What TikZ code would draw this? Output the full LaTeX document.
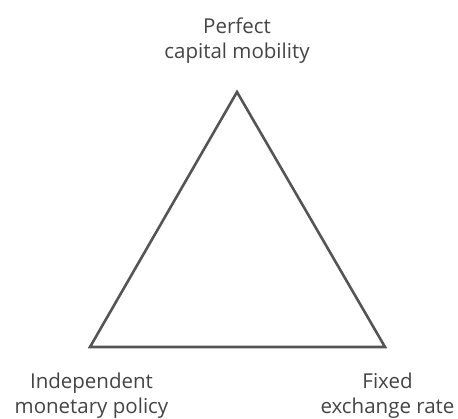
\documentclass[tikz,border=0pt]{standalone}
\usepackage{fontspec}
\setmainfont{Open Sans}
\definecolor{tri}{HTML}{555555}
\definecolor{txt}{HTML}{444444}
\begin{document}
\begin{tikzpicture}[x=1pt,y=-1pt,
  lab/.style={text=txt,align=center,font=\fontsize{20.5}{25}\selectfont,inner sep=0pt}]
\useasboundingbox (0,0) rectangle (458,419);
\coordinate (top) at (237,92);
\coordinate (bl) at (90,347);
\coordinate (br) at (385,347);
\draw[tri,line width=2.6pt,line join=miter] (top) -- (bl) -- (br) -- cycle;
\node[lab] (t) at (237,41) {Perfect\\capital mobility};
\node[lab] (l) at (91.5,396) {Independent\\monetary policy};
\node[lab] (r) at (387.5,396) {Fixed\\exchange rate};
\end{tikzpicture}
\end{document}
